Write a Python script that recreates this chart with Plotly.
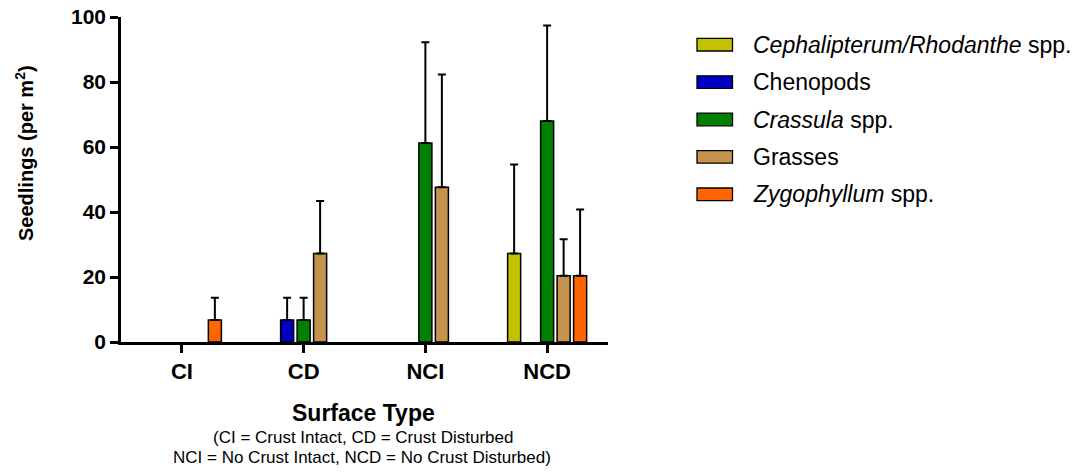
import plotly.graph_objects as go

# ---------------- data ----------------
categories = ["CI", "CD", "NCI", "NCD"]

series_names = [
    "<i>Cephalipterum/Rhodanthe</i> spp.",
    "Chenopods",
    "<i>Crassula</i> spp.",
    "Grasses",
    "<i>Zygophyllum</i> spp.",
]
series_colors = ["#C2C200", "#0000C4", "#008000", "#C4944F", "#FF6600"]

cephal = [None, None, None, 27.2]
cephal_err = [None, None, None, 27.4]
cheno = [None, 6.8, None, None]
cheno_err = [None, 6.8, None, None]
crass = [None, 6.8, 61.2, 68.0]
crass_err = [None, 6.8, 31.0, 29.4]
grass = [None, 27.2, 47.6, 20.4]
grass_err = [None, 16.2, 34.7, 11.2]
zygo = [6.8, None, None, 20.4]
zygo_err = [6.8, None, None, 20.4]

series_values = [cephal, cheno, crass, grass, zygo]
series_errors = [cephal_err, cheno_err, crass_err, grass_err, zygo_err]

y_ticks = [0, 20, 40, 60, 80, 100]

# ---------------- layout geometry (pixels) ----------------
W, H = 1073, 472
L, R, T, B = 121, 608, 17, 342
FONT = "Liberation Sans, Arial, sans-serif"


def px(x):
    return (x - L) / (R - L)


def py(y):
    return (B - y) / (B - T)


fig = go.Figure()
for name, color, vals, errs in zip(series_names, series_colors, series_values, series_errors):
    fig.add_trace(
        go.Bar(
            x=categories,
            y=vals,
            name=name,
            marker=dict(color=color, line=dict(color="black", width=1.5)),
            error_y=dict(
                type="data",
                symmetric=False,
                array=errs,
                arrayminus=[0 if e is not None else None for e in errs],
                color="black",
                thickness=2,
                width=4,
            ),
            showlegend=False,
        )
    )

shapes = []
annotations = []

# legend (custom, to match wide swatches)
for i, (name, color) in enumerate(zip(series_names, series_colors)):
    cy = 44.7 + 37.4 * i
    shapes.append(
        dict(
            type="rect", xref="paper", yref="paper",
            x0=px(697), x1=px(732.5), y0=py(cy + 6.3), y1=py(cy - 6.3),
            fillcolor=color, line=dict(color="black", width=1.3),
        )
    )
    annotations.append(
        dict(
            xref="paper", yref="paper", x=px(751), y=py(cy),
            xanchor="left", yanchor="middle", text=name, showarrow=False,
            font=dict(family=FONT, size=23, color="black"),
        )
    )

# y axis title
annotations.append(
    dict(
        xref="paper", yref="paper", x=px(24), y=py(153),
        xanchor="center", yanchor="middle", textangle=-90,
        text="<b>Seedlings (per m<sup>2</sup>)</b>", showarrow=False,
        font=dict(family=FONT, size=20, color="black"),
    )
)
# x axis title and subtitle
annotations.append(
    dict(
        xref="paper", yref="paper", x=px(363), y=py(413),
        xanchor="center", yanchor="middle",
        text="<b>Surface Type</b>", showarrow=False,
        font=dict(family=FONT, size=23, color="black"),
    )
)
annotations.append(
    dict(
        xref="paper", yref="paper", x=px(363), y=py(437),
        xanchor="center", yanchor="middle",
        text="(CI = Crust Intact, CD = Crust Disturbed", showarrow=False,
        font=dict(family=FONT, size=17, color="black"),
    )
)
annotations.append(
    dict(
        xref="paper", yref="paper", x=px(362), y=py(457),
        xanchor="center", yanchor="middle",
        text="NCI = No Crust Intact, NCD = No Crust Disturbed)", showarrow=False,
        font=dict(family=FONT, size=17, color="black"),
    )
)

fig.update_layout(
    width=W, height=H,
    margin=dict(l=L, r=W - R, t=T, b=H - B, pad=0, autoexpand=False),
    paper_bgcolor="white", plot_bgcolor="white",
    barmode="group", bargap=0.3225, bargroupgap=0.21,
    shapes=shapes, annotations=annotations,
    font=dict(family=FONT, color="black"),
    xaxis=dict(
        type="category", range=[-0.5, 3.5], automargin=False,
        showline=True, linecolor="black", linewidth=2.5,
        ticks="outside", ticklen=8, tickwidth=2.5, tickcolor="black",
        tickfont=dict(family=FONT, size=22, color="black", weight="bold"),
        showgrid=False, zeroline=False,
    ),
    yaxis=dict(
        range=[0, 100], tickvals=y_ticks, automargin=False,
        showline=True, linecolor="black", linewidth=2.5,
        ticks="outside", ticklen=8, tickwidth=2.5, tickcolor="black",
        tickfont=dict(family=FONT, size=21, color="black", weight="bold"),
        showgrid=False, zeroline=False,
    ),
)

fig.write_html("out.html")
